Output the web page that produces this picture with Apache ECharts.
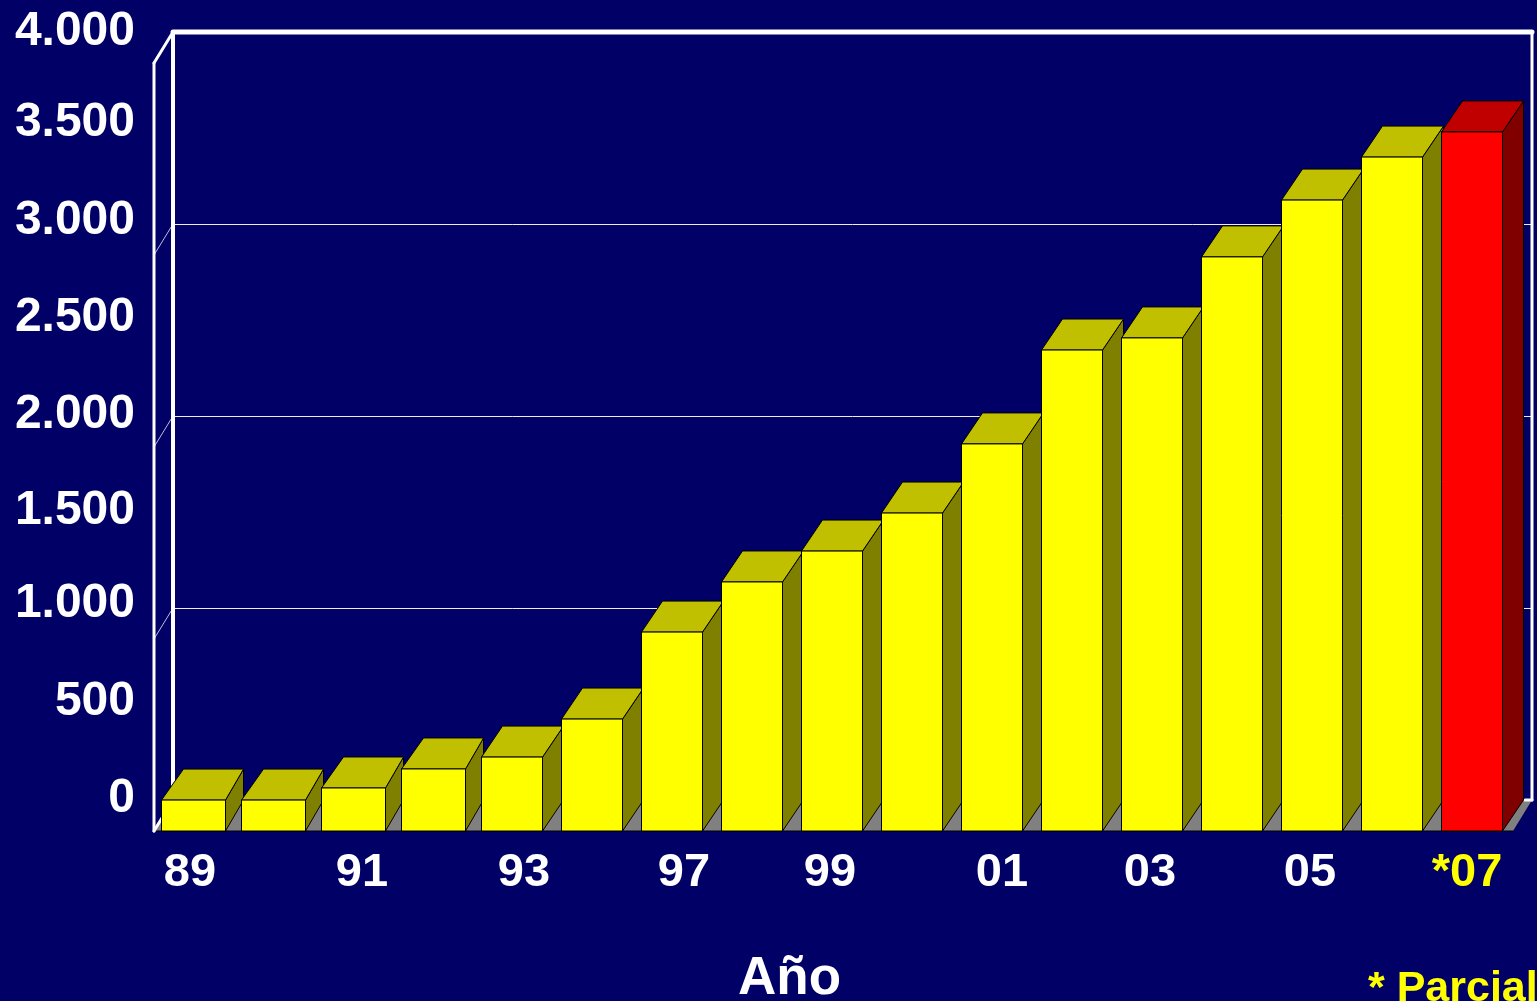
<!DOCTYPE html>
<html>
<head>
<meta charset="utf-8">
<style>html,body{margin:0;padding:0;background:#000066;overflow:hidden}#c{width:1537px;height:1001px}</style>
<script src="https://cdn.jsdelivr.net/npm/echarts@6/dist/echarts.min.js"></script>
</head>
<body>
<div id="c"></div>
<script>
const categories = ['89','90','91','92','93','95','97','98','99','00','01','02','03','04','05','06','*07'];
const values = [161,161,224,323,385,583,1036,1297,1458,1656,2016,2505,2568,2990,3286,3510,3641];
const yTickLabels = {0:'0',500:'500',1000:'1.000',1500:'1.500',2000:'2.000',2500:'2.500',3000:'3.000',3500:'3.500',4000:'4.000'};
const gridValues = [1000,2000,3000];
const titleText = 'Año';
const noteText = '* Parcial';

const DX = 21, DY = 31, WALL_DX = 19;
const FONT = '"Liberation Sans", Arial, sans-serif';
const labelBase = {fontFamily: FONT, fontWeight: 'bold', fontSize: 47, color: '#fff'};
const yLabelBase = {fontFamily: FONT, fontWeight: 'bold', fontSize: 48, color: '#fff'};
const xLabelPadding = {'89':[0,4,0,0],'91':[0,0,0,20],'93':[0,0,0,24],'97':[0,0,0,24],'99':[0,4,0,0],'01':[0,0,0,20],'03':[0,4,0,0],'05':[0,4,0,0],'*07':[0,10,0,0]};
const yLabelLift = {0:2,500:4,1000:8,1500:2,2000:2,2500:4,3000:6,3500:10,4000:0};

function poly(points, fill) {
  return {type: 'polygon', shape: {points}, style: {fill, stroke: '#000', lineWidth: 1}};
}
function seg(x1, y1, x2, y2, w, color) {
  return {type: 'line', shape: {x1, y1, x2, y2}, style: {stroke: color || '#fff', lineWidth: w, lineCap: 'round'}};
}
function renderBar(params, api) {
  const i = params.dataIndex;
  const top = api.coord([i, api.value(1)]);
  const base = api.coord([i, 0]);
  const band = api.size([1, 0])[0];
  const wide = i < 4;
  const w = band * 0.7625 + (wide ? 3 : 0);
  const l = top[0] - band * 0.7625 / 2, r = l + w, t = top[1], b = base[1];
  const last = i === categories.length - 1;
  const dxL = wide ? 22 : DX;
  const dxR = wide ? 18 : DX;
  return {type: 'group', children: [
    poly([[r, t], [r + dxR, t - DY], [r + dxR, b - DY], [r, b]], last ? '#800000' : '#808000'),
    poly([[l, t], [l + dxL, t - DY], [r + dxR, t - DY], [r, t]], last ? '#c00000' : '#c0c000'),
    poly([[l, t], [r, t], [r, b], [l, b]], last ? '#ff0000' : '#ffff00')
  ]};
}
function renderFrame(params, api) {
  const tl = api.coord([0, 4000]), bl = api.coord([0, 0]), tr = api.coord([1, 4000]), br = api.coord([1, 0]);
  const fx = tl[0] - WALL_DX;
  const children = [
    {type: 'polygon', shape: {points: [[fx, bl[1] + DY], bl, br, [br[0] - WALL_DX, bl[1] + DY]]}, style: {fill: '#808080'}},
    seg(fx, bl[1] + DY, br[0] - WALL_DX, bl[1] + DY, 1, '#000'),
    seg(fx, tl[1] + DY, fx, bl[1] + DY, 3),
    seg(fx, tl[1] + DY, tl[0], tl[1], 3),
    seg(fx, bl[1] + DY, bl[0], bl[1], 3),
    seg(tl[0], tl[1], bl[0], bl[1], 4),
    seg(tl[0], tl[1], tr[0], tr[1], 5),
    seg(tr[0], tr[1], br[0], br[1], 3),
    seg(br[0] - 7, br[1], br[0], br[1], 3)
  ];
  gridValues.forEach(v => {
    const p = api.coord([0, v]);
    children.push({type: 'line', shape: {x1: p[0], y1: p[1], x2: fx, y2: p[1] + DY},
      style: {stroke: 'rgba(255,255,255,0.75)', lineWidth: 1}});
  });
  return {type: 'group', children};
}

const xRich = {}, xKeys = {};
Object.keys(xLabelPadding).forEach((k, n) => {
  xKeys[k] = 'x' + n;
  xRich['x' + n] = Object.assign({}, labelBase, {padding: xLabelPadding[k], color: k[0] === '*' ? '#ffff00' : '#fff'});
});
const yRich = {};
Object.keys(yLabelLift).forEach(k => {
  yRich['y' + k] = Object.assign({}, yLabelBase, {padding: [0, 0, yLabelLift[k], 0]});
});

const chart = echarts.init(document.getElementById('c'), null, {renderer: 'canvas'});
chart.setOption({
  animation: false,
  backgroundColor: '#000066',
  title: [
    {text: titleText, left: 738, top: 953, padding: 0, textStyle: {fontFamily: FONT, fontWeight: 'bold', fontSize: 53, color: '#fff'}},
    {text: noteText, left: 1368, top: 968, padding: 0, textStyle: {fontFamily: FONT, fontWeight: 'bold', fontSize: 43, color: '#ffff00'}}
  ],
  grid: [
    {left: 152, top: 63, width: 1360, height: 768},
    {left: 173, top: 32, width: 1359, height: 768}
  ],
  xAxis: [
    {type: 'category', gridIndex: 0, data: categories,
      axisLine: {show: false}, axisTick: {show: false}, splitLine: {show: false},
      axisLabel: {interval: 1, margin: 19, hideOverlap: false,
        formatter: v => '{' + xKeys[v] + '|' + v + '}', rich: xRich}},
    {type: 'value', gridIndex: 1, min: 0, max: 1, show: false}
  ],
  yAxis: [
    {type: 'value', gridIndex: 0, min: 0, max: 4000, interval: 500, show: false},
    {type: 'value', gridIndex: 1, min: 0, max: 4000, interval: 500, position: 'left',
      axisLine: {show: false}, axisTick: {show: false}, splitLine: {show: false},
      axisLabel: {margin: 38, formatter: v => '{y' + v + '|' + yTickLabels[v] + '}', rich: yRich}},
    {type: 'value', gridIndex: 1, min: 0, max: 4000, interval: 1000, position: 'left',
      axisLine: {show: false}, axisTick: {show: false}, axisLabel: {show: false},
      splitLine: {show: true, showMinLine: false, showMaxLine: false, lineStyle: {color: '#eeeeee', width: 1}}}
  ],
  series: [
    {type: 'custom', name: 'frame', xAxisIndex: 1, yAxisIndex: 1, z: 1, silent: true, clip: false,
      data: [[0, 0]], renderItem: renderFrame},
    {type: 'custom', name: 'Valor', xAxisIndex: 0, yAxisIndex: 0, z: 2, silent: true, clip: false,
      data: values.map((v, i) => [i, v]), encode: {x: 0, y: 1}, renderItem: renderBar}
  ]
});
</script>
</body>
</html>
